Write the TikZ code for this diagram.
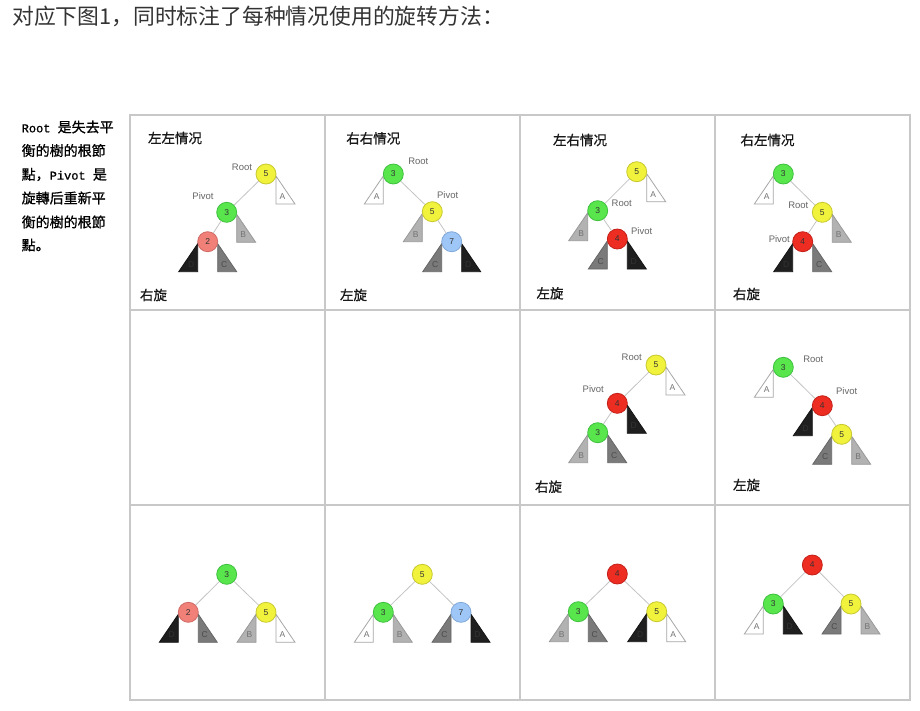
\documentclass[tikz,border=0pt]{standalone}
\usepackage{fontspec}
\newfontfamily\cjk{Noto Sans CJK SC}
\newfontfamily\cjkb{Noto Sans CJK SC}[FakeBold=0.8]
\newfontfamily\lsans{Liberation Sans}
\newfontfamily\lmono{Liberation Mono}[FakeBold=0.8]
\definecolor{ylwF}{HTML}{F0F23C}
\definecolor{ylwD}{HTML}{C8C830}
\definecolor{grnF}{HTML}{58E64C}
\definecolor{grnD}{HTML}{40C040}
\definecolor{pnkF}{HTML}{F08078}
\definecolor{pnkD}{HTML}{D06A66}
\definecolor{bluF}{HTML}{9EC6F6}
\definecolor{bluD}{HTML}{80A8D8}
\definecolor{redF}{HTML}{EE2D22}
\definecolor{redD}{HTML}{C42018}
\definecolor{edgeC}{HTML}{C4C4C4}
\definecolor{gridC}{HTML}{C8C8C8}
\pgfdeclarelayer{bg}
\pgfsetlayers{bg,main}
\tikzset{
  nd/.style={circle, minimum size=20pt, inner sep=0pt, line width=0.8pt, font=\lsans\fontsize{8.5}{9}\selectfont, text=black!80},
  ylw/.style={nd, fill=ylwF, draw=ylwD},
  grn/.style={nd, fill=grnF, draw=grnD},
  pnk/.style={nd, fill=pnkF, draw=pnkD},
  blu/.style={nd, fill=bluF, draw=bluD},
  rdn/.style={nd, fill=redF, draw=redD},
  edge/.style={draw=edgeC, line width=0.8pt},
  tw/.style={fill=white, draw=black!35, line width=0.8pt},
  tg/.style={fill=black!30, draw=black!40, line width=0.8pt},
  td/.style={fill=black!52, draw=black!60, line width=0.8pt},
  tk/.style={fill=black!88, draw=black!92, line width=0.8pt},
  tl/.style={font=\lsans\fontsize{8.5}{9}\selectfont, inner sep=0pt},
  rp/.style={font=\lsans\fontsize{9.5}{10}\selectfont, text=black!60, inner sep=0pt},
  ttl/.style={font=\cjkb\fontsize{13.5}{14}\selectfont, text=black!90, inner sep=0pt},
  lt/.style={font=\cjkb\fontsize{14}{14}\selectfont, text=black, inner sep=0pt, anchor=west},
  gridl/.style={draw=gridC, line width=1.2pt}
}
% subtree to the right / left of a node: #1 node, #2 style, #3 letter, #4 letter colour
\newcommand\subR[4]{%
  \begin{pgfonlayer}{bg}\draw[#2] (#1.center) ++(10,2) -- ++(0,28) -- ++(19,0) -- cycle;\end{pgfonlayer}
  \path (#1.center) ++(16.5,22.5) node[tl, text=#4] (#1#3) {#3};}
\newcommand\subL[4]{%
  \begin{pgfonlayer}{bg}\draw[#2] (#1.center) ++(-10,2) -- ++(0,28) -- ++(-19,0) -- cycle;\end{pgfonlayer}
  \path (#1.center) ++(-16.5,22.5) node[tl, text=#4] (#1#3) {#3};}
\begin{document}
\begin{tikzpicture}[x=1pt, y=-1pt]
\useasboundingbox (0,0) rectangle (920,710);
\begin{pgfonlayer}{bg}\fill[white] (0,0) rectangle (920,710);\end{pgfonlayer}

% heading
\node[anchor=west, inner sep=0pt, font=\cjk\fontsize{21.8}{22}\selectfont, text=black!80] (head) at (12,16) {对应下图1，同时标注了每种情况使用的旋转方法：};

% left note
\node[lt] (n1) at (21.5,127) {{\lmono\fontsize{12}{12}\selectfont Root }是失去平};
\node[lt] (n2) at (21.5,150.5) {衡的樹的根節};
\node[lt] (n3) at (21.5,174.5) {點，{\lmono\fontsize{12}{12}\selectfont Pivot }是};
\node[lt] (n4) at (21.5,198) {旋轉后重新平};
\node[lt] (n5) at (21.5,222) {衡的樹的根節};
\node[lt] (n6) at (21.5,245) {點。};

% grid
\draw[gridl] (130,115) rectangle (910,700);
\draw[gridl] (325,115) -- (325,700);
\draw[gridl] (520,115) -- (520,700);
\draw[gridl] (715,115) -- (715,700);
\draw[gridl] (130,310) -- (910,310);
\draw[gridl] (130,505) -- (910,505);

% ---------- cell 1: 左左情况 ----------
\node[ttl] (t1) at (175,138) {左左情况};
\node[ttl] (r1) at (153.5,295) {右旋};
\node[ylw] (c1r) at (266,174) {5};
\node[grn] (c1p) at (226.7,212.3) {3};
\node[pnk] (c1x) at (207.7,241.7) {2};
\draw[edge] (c1r) -- (c1p);
\draw[edge] (c1p) -- (c1x);
\subR{c1r}{tw}{A}{black!55}
\subR{c1p}{tg}{B}{black!55}
\subL{c1x}{tk}{D}{black!80}
\subR{c1x}{td}{C}{black!70}
\node[rp] (k1r) at (242,167) {Root};
\node[rp] (k1p) at (203,195.7) {Pivot};

% ---------- cell 2: 右右情况 ----------
\node[ttl] (t2) at (373.3,138.3) {右右情况};
\node[ttl] (r2) at (353.5,295) {左旋};
\node[grn] (c2r) at (393.3,174) {3};
\node[ylw] (c2p) at (432.3,211.7) {5};
\node[blu] (c2x) at (451.7,241.7) {7};
\draw[edge] (c2r) -- (c2p);
\draw[edge] (c2p) -- (c2x);
\subL{c2r}{tw}{A}{black!55}
\subL{c2p}{tg}{B}{black!55}
\subL{c2x}{td}{C}{black!70}
\subR{c2x}{tk}{D}{black!80}
\node[rp] (k2r) at (418.3,161.7) {Root};
\node[rp] (k2p) at (447.7,195) {Pivot};

% ---------- cell 3: 左右情况 ----------
\node[ttl] (t3) at (580,140) {左右情况};
\node[ttl] (r3) at (550,293.3) {左旋};
\node[ylw] (c3a) at (636.7,171.7) {5};
\node[grn] (c3r) at (597.7,210.7) {3};
\node[rdn] (c3p) at (617.3,239) {4};
\draw[edge] (c3a) -- (c3r);
\draw[edge] (c3r) -- (c3p);
\subR{c3a}{tw}{A}{black!55}
\subL{c3r}{tg}{B}{black!55}
\subL{c3p}{td}{C}{black!70}
\subR{c3p}{tk}{D}{black!80}
\node[rp] (k3r) at (621.7,203.3) {Root};
\node[rp] (k3p) at (641.7,230.7) {Pivot};

% ---------- cell 4: 右左情况 ----------
\node[ttl] (t4) at (767.5,140) {右左情况};
\node[ttl] (r4) at (746.5,294) {右旋};
\node[grn] (c4a) at (783.3,174) {3};
\node[ylw] (c4r) at (822.3,212.3) {5};
\node[rdn] (c4p) at (802.7,241.7) {4};
\draw[edge] (c4a) -- (c4r);
\draw[edge] (c4r) -- (c4p);
\subL{c4a}{tw}{A}{black!55}
\subR{c4r}{tg}{B}{black!55}
\subL{c4p}{tk}{D}{black!80}
\subR{c4p}{td}{C}{black!70}
\node[rp] (k4r) at (798.3,205) {Root};
\node[rp] (k4p) at (779.3,239) {Pivot};

% ---------- cell 7 ----------
\node[ttl] (r7) at (548.5,486.7) {右旋};
\node[ylw] (c7r) at (656,365) {5};
\node[rdn] (c7p) at (617.3,403.3) {4};
\node[grn] (c7x) at (597.7,432.7) {3};
\draw[edge] (c7r) -- (c7p);
\draw[edge] (c7p) -- (c7x);
\subR{c7r}{tw}{A}{black!55}
\subR{c7p}{tk}{D}{black!80}
\subL{c7x}{tg}{B}{black!55}
\subR{c7x}{td}{C}{black!70}
\node[rp] (k7r) at (631.7,357.3) {Root};
\node[rp] (k7p) at (593.3,389) {Pivot};

% ---------- cell 8 ----------
\node[ttl] (r8) at (746.5,485) {左旋};
\node[grn] (c8r) at (783.3,367.3) {3};
\node[rdn] (c8p) at (822.3,405.7) {4};
\node[ylw] (c8x) at (841.7,434.3) {5};
\draw[edge] (c8r) -- (c8p);
\draw[edge] (c8p) -- (c8x);
\subL{c8r}{tw}{A}{black!55}
\subL{c8p}{tk}{D}{black!80}
\subL{c8x}{td}{C}{black!70}
\subR{c8x}{tg}{B}{black!55}
\node[rp] (k8r) at (813.3,359.3) {Root};
\node[rp] (k8p) at (846.7,391) {Pivot};

% ---------- cell 9 ----------
\node[grn] (c9t) at (226.7,574.3) {3};
\node[pnk] (c9l) at (188.3,612.3) {2};
\node[ylw] (c9r) at (266,612.3) {5};
\draw[edge] (c9t) -- (c9l);
\draw[edge] (c9t) -- (c9r);
\subL{c9l}{tk}{D}{black!80}
\subR{c9l}{td}{C}{black!70}
\subL{c9r}{tg}{B}{black!55}
\subR{c9r}{tw}{A}{black!55}

% ---------- cell 10 ----------
\node[ylw] (c10t) at (422.3,574.3) {5};
\node[grn] (c10l) at (383.3,612.3) {3};
\node[blu] (c10r) at (461,612.3) {7};
\draw[edge] (c10t) -- (c10l);
\draw[edge] (c10t) -- (c10r);
\subL{c10l}{tw}{A}{black!55}
\subR{c10l}{tg}{B}{black!55}
\subL{c10r}{td}{C}{black!70}
\subR{c10r}{tk}{D}{black!80}

% ---------- cell 11 ----------
\node[rdn] (c11t) at (617.3,574) {4};
\node[grn] (c11l) at (578.3,611.7) {3};
\node[ylw] (c11r) at (656.7,611.7) {5};
\draw[edge] (c11t) -- (c11l);
\draw[edge] (c11t) -- (c11r);
\subL{c11l}{tg}{B}{black!55}
\subR{c11l}{td}{C}{black!70}
\subL{c11r}{tk}{D}{black!80}
\subR{c11r}{tw}{A}{black!55}

% ---------- cell 12 ----------
\node[rdn] (c12t) at (812.3,565) {4};
\node[grn] (c12l) at (773.3,604) {3};
\node[ylw] (c12r) at (851,604) {5};
\draw[edge] (c12t) -- (c12l);
\draw[edge] (c12t) -- (c12r);
\subL{c12l}{tw}{A}{black!55}
\subR{c12l}{tk}{D}{black!80}
\subL{c12r}{td}{C}{black!70}
\subR{c12r}{tg}{B}{black!55}
\end{tikzpicture}
\end{document}
